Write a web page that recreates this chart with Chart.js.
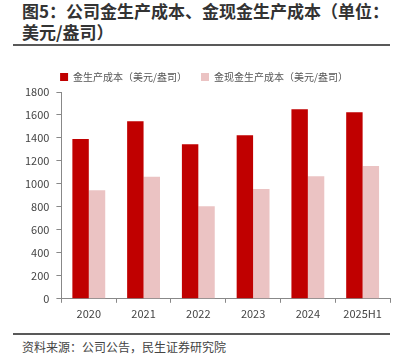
<!DOCTYPE html>
<html>
<head>
<meta charset="utf-8">
<script src="https://cdn.jsdelivr.net/npm/chart.js@4"></script>
<style>
body { margin: 0; width: 405px; height: 358px; background: #fff; position: relative; overflow: hidden; font-family: "Noto Sans CJK SC", sans-serif; }
.title { position: absolute; left: 22px; top: 0px; font-size: 17px; font-weight: bold; line-height: 21px; color: #333; }
.rule { position: absolute; left: 13px; width: 377px; height: 2px; background: #595959; }
.source { position: absolute; left: 22px; top: 338px; font-size: 12px; color: #444; }
#wrap { position: absolute; left: 0; top: 58px; width: 405px; height: 266px; }
</style>
</head>
<body>
<div class="title">图5：公司金生产成本、金现金生产成本（单位：<br>美元/盎司）</div>
<div class="rule" style="top:44px"></div>
<div id="wrap"><canvas id="chart"></canvas></div>
<div class="rule" style="top:333px"></div>
<div class="source">资料来源：公司公告，民生证券研究院</div>
<script>
// Data
const years = ['2020', '2021', '2022', '2023', '2024', '2025H1'];
const productionCost = [1390, 1545, 1345, 1423, 1649, 1623];
const cashCost = [945, 1063, 806, 956, 1066, 1156];
const yTicks = [0, 200, 400, 600, 800, 1000, 1200, 1400, 1600, 1800];

const ctx = document.getElementById('chart');

new Chart(ctx, {
    type: 'bar',
    data: {
        labels: years,
        datasets: [{
            label: '金生产成本（美元/盎司）',
            data: productionCost,
            backgroundColor: '#C00000',
        }, {
            label: '金现金生产成本（美元/盎司）',
            data: cashCost,
            backgroundColor: '#EBC3C3',
        }]
    },
    options: {
        responsive: true,
        maintainAspectRatio: false,
        animation: false,
        layout: {
            padding: { left: 18, right: 15, top: 0, bottom: 0 }
        },
        datasets: {
            bar: { barPercentage: 1, categoryPercentage: 0.6 }
        },
        plugins: {
            legend: {
                position: 'top',
                labels: {
                    boxWidth: 8,
                    boxHeight: 8,
                    padding: 14,
                    color: '#555',
                    font: { size: 10, family: '"Noto Sans CJK SC"' }
                }
            },
            tooltip: { enabled: false }
        },
        scales: {
            x: {
                grid: { drawOnChartArea: false, drawTicks: true, tickLength: 4, color: '#888' },
                border: { color: '#888' },
                ticks: { color: '#444', font: { size: 11, family: '"Noto Sans CJK SC"' }, padding: 4 }
            },
            y: {
                min: 0,
                max: 1800,
                afterBuildTicks: axis => { axis.ticks = yTicks.map(v => ({ value: v })); },
                grid: { drawOnChartArea: false, drawTicks: true, tickLength: 5, color: '#888' },
                border: { color: '#888' },
                ticks: {
                    color: '#444',
                    font: { size: 11, family: '"Noto Sans CJK SC"' },
                    padding: 7,
                    callback: v => String(v)
                }
            }
        }
    }
});
</script>
</body>
</html>
